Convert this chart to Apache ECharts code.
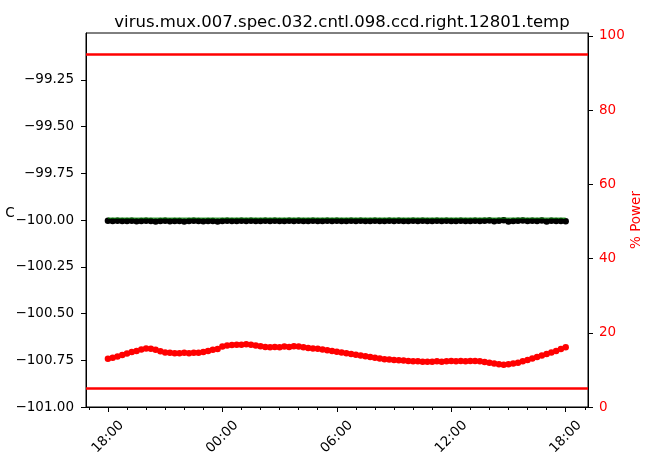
<!DOCTYPE html>
<html>
<head>
<meta charset="utf-8">
<script src="https://cdn.jsdelivr.net/npm/echarts@6/dist/echarts.min.js"></script>
<style>
  html, body { margin: 0; padding: 0; background: #fff; }
  #chart { width: 648px; height: 459px; }
</style>
</head>
<body>
<div id="chart"></div>
<script>
// CCD temperature and heater power over one day
const TITLE = 'virus.mux.007.spec.032.cntl.098.ccd.right.12801.temp';
const HOUR = 3600 * 1000;
const SAMPLE_START = Date.UTC(2020, 0, 1, 18, 0);   // first sample, 18:00
const SAMPLE_STEP = 15 * 60 * 1000;                  // one sample every 15 min

// temperature (C), left axis
const temperature = [
  -100.004, -100.005, -100.004, -100.006, -100.005, -100.004, -100.007, -100.005, -100.004, -100.006,
  -100.008, -100.005, -100.004, -100.007, -100.005, -100.006, -100.008, -100.005, -100.004, -100.006,
  -100.007, -100.005, -100.006, -100.008, -100.005, -100.004, -100.005, -100.006, -100.004, -100.005,
  -100.004, -100.005, -100.006, -100.004, -100.005, -100.004, -100.006, -100.005, -100.004, -100.005,
  -100.004, -100.006, -100.005, -100.004, -100.005, -100.006, -100.004, -100.005, -100.004, -100.005,
  -100.006, -100.004, -100.005, -100.004, -100.006, -100.005, -100.004, -100.005, -100.006, -100.004,
  -100.005, -100.004, -100.005, -100.006, -100.004, -100.005, -100.004, -100.006, -100.005, -100.004,
  -100.005, -100.004, -100.006, -100.005, -100.004, -100.005, -100.006, -100.004, -100.005, -100.004,
  -100.003, -100.007, -100.004, -100.002, -100.008, -100.005, -100.004, -100.003, -100.006, -100.004,
  -100.005, -100.003, -100.008, -100.004, -100.005, -100.006, -100.007
];

// heater power (%), right axis
const power = [
  13.0, 13.3, 13.6, 14.0, 14.4, 14.8, 15.1, 15.5, 15.8, 15.7,
  15.4, 15.0, 14.7, 14.6, 14.5, 14.5, 14.6, 14.5, 14.6, 14.6,
  14.8, 15.1, 15.4, 15.6, 16.3, 16.6, 16.7, 16.8, 16.8, 16.9,
  16.8, 16.6, 16.4, 16.2, 16.1, 16.2, 16.1, 16.3, 16.2, 16.4,
  16.3, 16.1, 15.9, 15.8, 15.7, 15.5, 15.3, 15.1, 14.9, 14.7,
  14.5, 14.3, 14.1, 13.9, 13.7, 13.5, 13.3, 13.1, 12.9, 12.8,
  12.7, 12.6, 12.5, 12.4, 12.3, 12.3, 12.2, 12.2, 12.2, 12.3,
  12.2, 12.3, 12.4, 12.3, 12.4, 12.3, 12.4, 12.4, 12.3, 12.1,
  11.9, 11.7, 11.5, 11.4, 11.5, 11.7, 11.9, 12.3, 12.7, 13.1,
  13.5, 13.9, 14.3, 14.7, 15.1, 15.6, 16.1
];

const setpoint = -99.99;          // control setpoint trace
const powerLimits = [95, 5];      // power alarm limits (%)

const tempTicks = [-101.0, -100.75, -100.5, -100.25, -100.0, -99.75, -99.5, -99.25];
const powerTicks = [0, 20, 40, 60, 80, 100];
const majorTickHours = [0, 6, 12, 18, 24];                     // hours after first sample
const minorTickHours = [-1, 0, 1, 2, 3, 4, 5, 6, 7, 8, 9, 10, 11, 12, 13, 14, 15, 16, 17,
                        18, 19, 20, 21, 22, 23, 24, 25];

const FONT = 'DejaVu Sans';
const times = temperature.map((_, i) => SAMPLE_START + i * SAMPLE_STEP);
const lastTime = times[times.length - 1];
const xMin = SAMPLE_START - 1.15 * HOUR;
const xMax = lastTime + 1.17 * HOUR;

const fmtTemp = v => (v < 0 ? '\u2212' : '') + Math.abs(v).toFixed(2);
const fmtTime = v => {
  const d = new Date(v);
  const h = String(d.getUTCHours()).padStart(2, '0');
  const m = String(d.getUTCMinutes()).padStart(2, '0');
  return h + ':' + m;
};

const chart = echarts.init(document.getElementById('chart'));
chart.setOption({
  animation: false,
  backgroundColor: '#fff',
  title: {
    text: TITLE,
    left: 337,
    top: 9,
    textAlign: 'center',
    textStyle: { fontFamily: FONT, fontSize: 16.5, fontWeight: 'normal', color: '#000' }
  },
  grid: {
    left: 86, right: 60, top: 33, bottom: 52,
    outerBoundsMode: 'none', containLabel: false,
    show: true, borderColor: '#000', borderWidth: 1, backgroundColor: 'transparent'
  },
  xAxis: [
    {
      type: 'value', min: xMin, max: xMax, position: 'bottom',
      axisLine: { show: true, onZero: false, lineStyle: { color: '#000', width: 1 } },
      axisTick: {
        show: true, length: 5, lineStyle: { color: '#000', width: 1 },
        customValues: majorTickHours.map(h => SAMPLE_START + h * HOUR)
      },
      axisLabel: {
        show: true, rotate: 45, align: 'center', verticalAlign: 'middle', margin: 30,
        fontFamily: FONT, fontSize: 13.5, color: '#000',
        customValues: majorTickHours.map(h => SAMPLE_START + h * HOUR),
        formatter: fmtTime
      },
      splitLine: { show: false }
    },
    {
      type: 'value', min: xMin, max: xMax, position: 'bottom',
      axisLine: { show: false },
      axisTick: {
        show: true, length: 3, lineStyle: { color: '#000', width: 1 },
        customValues: minorTickHours.map(h => SAMPLE_START + h * HOUR)
      },
      axisLabel: { show: false },
      splitLine: { show: false }
    }
  ],
  yAxis: [
    {
      type: 'value', min: -101, max: -99, position: 'left',
      name: 'C', nameLocation: 'middle', nameRotate: 0, nameGap: 76, nameMoveOverlap: false,
      nameTextStyle: { fontFamily: FONT, fontSize: 13.5, color: '#000', verticalAlign: 'bottom', align: 'center' },
      axisLine: { show: true, onZero: false, lineStyle: { color: '#000', width: 1 } },
      axisTick: { show: true, length: 5, lineStyle: { color: '#000', width: 1 }, customValues: tempTicks },
      axisLabel: {
        fontFamily: FONT, fontSize: 13.5, color: '#000', margin: 12,
        customValues: tempTicks, formatter: fmtTemp
      },
      splitLine: { show: false }
    },
    {
      type: 'value', min: 0, max: 100.8, position: 'right',
      name: '% Power', nameLocation: 'middle', nameRotate: 90, nameGap: 48, nameMoveOverlap: false,
      nameTextStyle: { fontFamily: FONT, fontSize: 13.5, color: '#ff0000', verticalAlign: 'middle', align: 'center' },
      axisLine: { show: true, onZero: false, lineStyle: { color: '#000', width: 1 } },
      axisTick: { show: true, length: 5, lineStyle: { color: '#000', width: 1 }, customValues: powerTicks },
      axisLabel: { fontFamily: FONT, fontSize: 13.5, color: '#ff0000', margin: 11, customValues: powerTicks },
      splitLine: { show: false }
    }
  ],
  series: [
    {
      name: 'power',
      type: 'scatter', xAxisIndex: 0, yAxisIndex: 1,
      symbol: 'circle', symbolSize: 6.5,
      itemStyle: { color: '#ff0000', opacity: 1 },
      data: power.map((v, i) => [times[i], v]),
      markLine: {
        silent: true, symbol: 'none',
        label: { show: false },
        lineStyle: { color: '#ff0000', width: 2.6, type: 'solid' },
        data: powerLimits.map(v => ({ yAxis: v }))
      },
      z: 2
    },
    {
      name: 'temperature',
      type: 'scatter', xAxisIndex: 0, yAxisIndex: 0,
      symbol: 'circle', symbolSize: 6.5,
      itemStyle: { color: '#000', opacity: 1 },
      data: temperature.map((v, i) => [times[i], v]),
      z: 3
    },
    {
      name: 'setpoint',
      type: 'line', xAxisIndex: 0, yAxisIndex: 0,
      showSymbol: false, symbol: 'none',
      lineStyle: { color: '#008000', width: 1 },
      data: [[times[0], setpoint], [lastTime, setpoint]],
      z: 4
    }
  ]
});
</script>
</body>
</html>
